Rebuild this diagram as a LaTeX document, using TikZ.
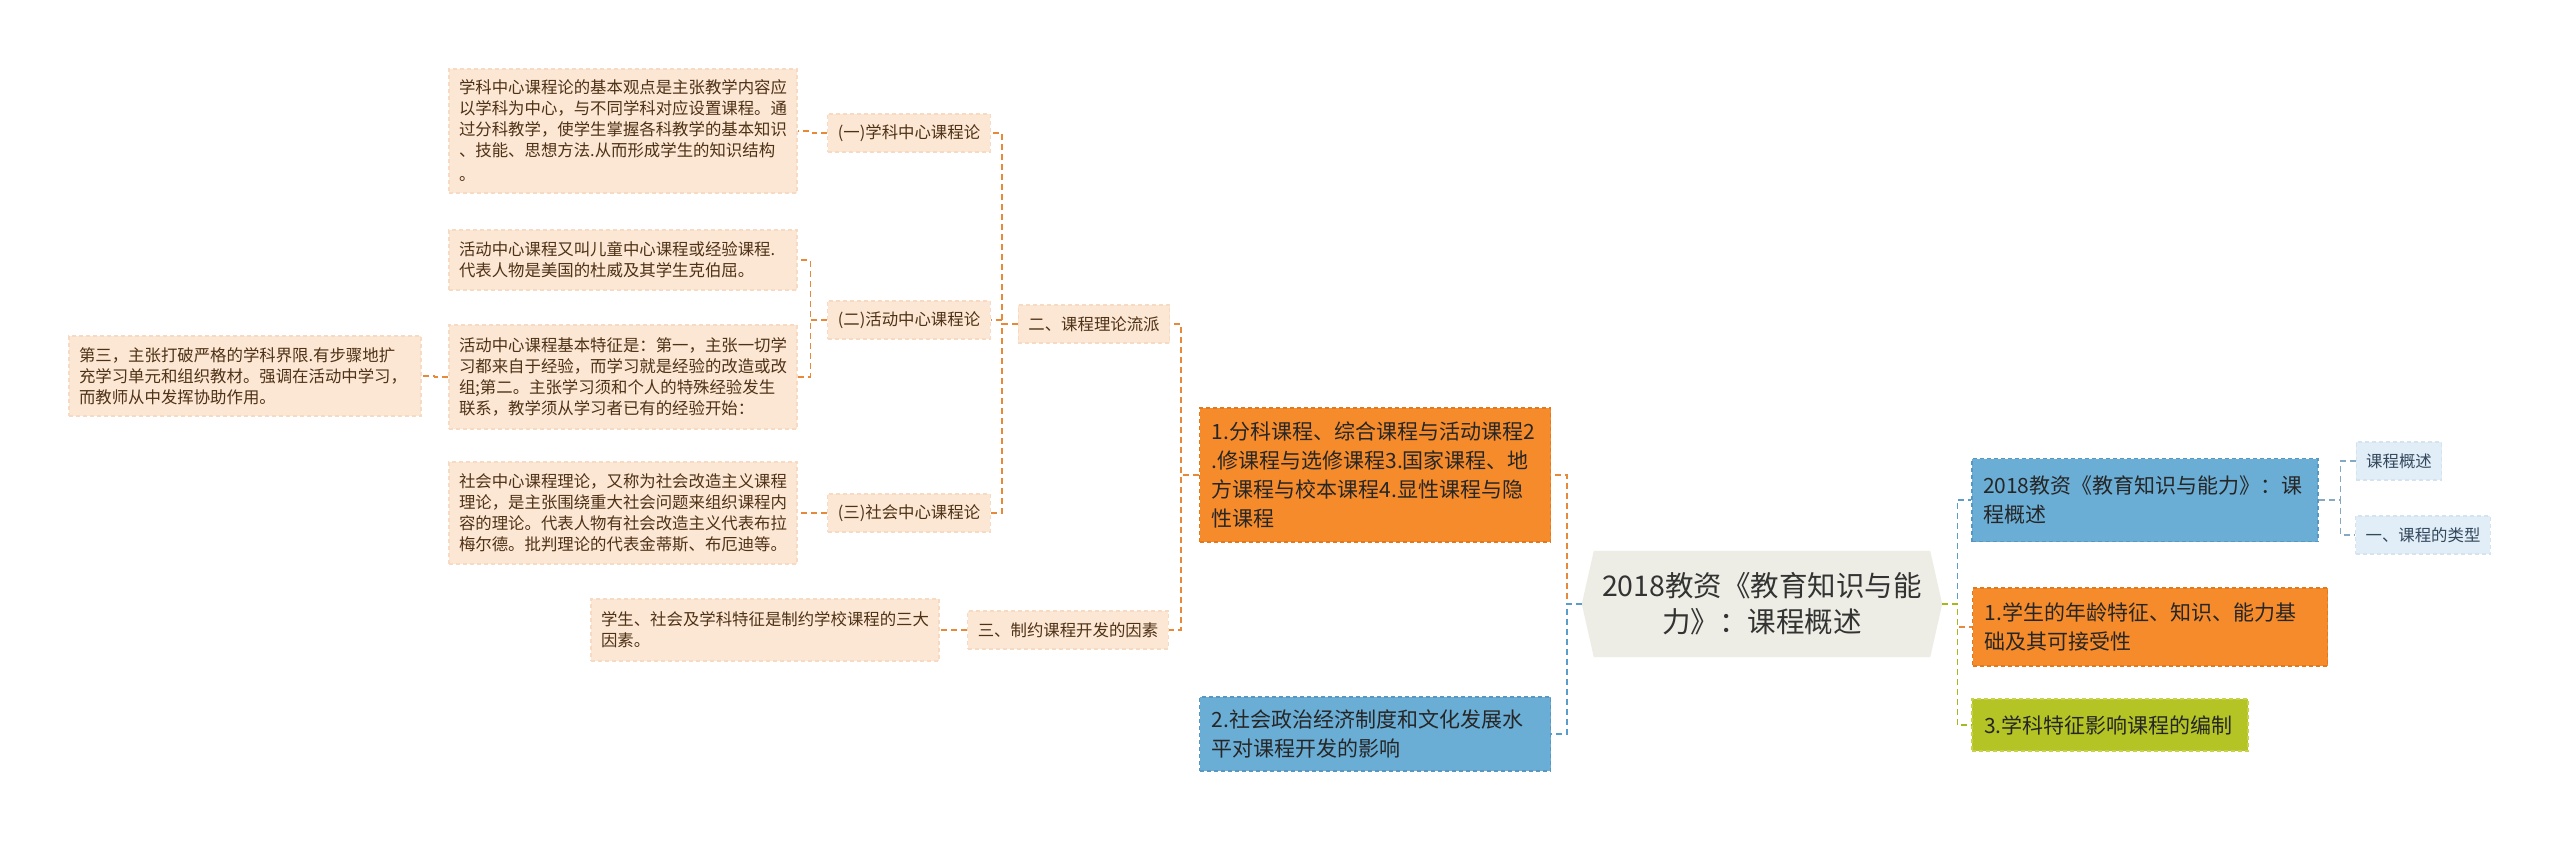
\documentclass[tikz,border=0pt]{standalone}
\usepackage{fontspec}
\setmainfont{Noto Sans CJK SC}
\usetikzlibrary{backgrounds}
\definecolor{peach}{HTML}{FCE6D4}
\definecolor{peachline}{HTML}{F8DAC3}
\definecolor{peachtext}{HTML}{4E3216}
\definecolor{orline}{HTML}{E8893A}
\definecolor{orfill}{HTML}{F68B2B}
\definecolor{orbord}{HTML}{E2791E}
\definecolor{blfill}{HTML}{6AADD5}
\definecolor{blbord}{HTML}{5897C2}
\definecolor{blline}{HTML}{5A9DCA}
\definecolor{olfill}{HTML}{B4C425}
\definecolor{olbord}{HTML}{C6D24A}
\definecolor{olline}{HTML}{A7B71E}
\definecolor{skyfill}{HTML}{E1EEF8}
\definecolor{skybord}{HTML}{D3E4F0}
\definecolor{skyline}{HTML}{86A9C2}
\definecolor{skytext}{HTML}{34485C}
\definecolor{rootfill}{HTML}{EDEDE5}

\begin{document}
\begin{tikzpicture}[x=1pt,y=-1pt,
  box/.style={rectangle, inner xsep=10pt, inner ysep=0pt, align=left,
    dash pattern=on 4pt off 3pt, line width=1.2pt},
  leaf/.style={box, fill=peach, draw=peachline, text=peachtext,
    font=\fontsize{16.4pt}{21pt}\selectfont, text width=328pt},
  mid/.style={box, fill=peach, draw=peachline, text=peachtext,
    font=\fontsize{16.4pt}{21pt}\selectfont, minimum height=38pt},
  big/.style={box, inner xsep=12pt, text=black!85,
    font=\fontsize{21pt}{29pt}\selectfont},
  sky/.style={box, fill=skyfill, draw=skybord, text=skytext,
    font=\fontsize{16.4pt}{21pt}\selectfont, minimum height=38pt},
  link/.style={dash pattern=on 6pt off 4pt, line width=1.4pt}]
  \useasboundingbox (0,0) rectangle (2560,843);

  \node[leaf, minimum height=124pt] (xkla) at (623,131) {学科中心课程论的基本观点是主张教学内容应\\以学科为中心，与不同学科对应设置课程。通\\过分科教学，使学生掌握各科教学的基本知识\\、技能、思想方法.从而形成学生的知识结构\\[3pt]。};
  \node[leaf, minimum height=60pt] (hdla) at (623,260) {活动中心课程又叫儿童中心课程或经验课程.\\代表人物是美国的杜威及其学生克伯屈。};
  \node[leaf, minimum height=104pt] (hdlb) at (623,377) {活动中心课程基本特征是：第一，主张一切学\\习都来自于经验，而学习就是经验的改造或改\\组;第二。主张学习须和个人的特殊经验发生\\联系，教学须从学习者已有的经验开始：};
  \node[leaf, text width=332pt, minimum height=80pt] (hdlc) at (245,376) {第三，主张打破严格的学科界限.有步骤地扩\\充学习单元和组织教材。强调在活动中学习，\\而教师从中发挥协助作用。};
  \node[leaf, minimum height=102pt] (shla) at (623,513) {社会中心课程理论，又称为社会改造主义课程\\理论，是主张围绕重大社会问题来组织课程内\\容的理论。代表人物有社会改造主义代表布拉\\梅尔德。批判理论的代表金蒂斯、布厄迪等。};
  \node[leaf, minimum height=62pt] (yinsua) at (765,630) {学生、社会及学科特征是制约学校课程的三大\\因素。};

  \node[mid] (xkl) at (909,133) {(一)学科中心课程论};
  \node[mid] (hdl) at (909,320) {(二)活动中心课程论};
  \node[mid] (shl) at (909,513) {(三)社会中心课程论};
  \node[mid] (liupai) at (1094,324) {二、课程理论流派};
  \node[mid] (yinsu) at (1068,630) {三、制约课程开发的因素};

  \node[big, fill=orfill, draw=orbord, text width=327pt, minimum height=134pt] (fenke) at (1375,475) {1.分科课程、综合课程与活动课程2\\.修课程与选修课程3.国家课程、地\\方课程与校本课程4.显性课程与隐\\性课程};
  \node[big, fill=blfill, draw=blbord, text width=327pt, minimum height=74pt] (soc) at (1375,734) {2.社会政治经济制度和文化发展水\\平对课程开发的影响};

  \node[align=center, text=black!80, font=\fontsize{28.5pt}{36pt}\selectfont,
    minimum width=360pt, minimum height=106pt, inner sep=0pt] (root) at (1762,604) {2018教资《教育知识与能\\力》：课程概述};
  \begin{scope}[on background layer]
    \fill[white] (0,0) rectangle (2560,843);
    \fill[rootfill] ([xshift=12pt]root.north west) -- (root.west) -- ([xshift=12pt]root.south west)
      -- ([xshift=-12pt]root.south east) -- (root.east) -- ([xshift=-12pt]root.north east) -- cycle;
  \end{scope}

  \node[big, fill=blfill, draw=blbord, text width=324pt, inner xsep=11pt, minimum height=83pt] (kinds) at (2145,500) {2018教资《教育知识与能力》：课\\程概述};
  \node[sky] (ovw) at (2399,461) {课程概述};
  \node[sky] (types) at (2423,535) {一、课程的类型};
  \node[big, fill=orfill, draw=orbord, text width=331pt, minimum height=78pt] (stu) at (2150,627) {1.学生的年龄特征、知识、能力基\\础及其可接受性};
  \node[big, fill=olfill, draw=olbord, text width=252pt, minimum height=52pt] (subj) at (2110,725) {3.学科特征影响课程的编制};

  \draw[link, orline] (root.west) -- ++(-15,0) |- (fenke.east);
  \draw[link, blline] (root.west) -- ++(-15,0) |- (soc.east);
  \draw[link, blline] (root.east) -- ++(15,0) |- (kinds.west);
  \draw[link, orline] (root.east) -- ++(15,0) |- (stu.west);
  \draw[link, olline] (root.east) -- ++(15,0) |- (subj.west);
  \draw[link, skyline] (kinds.east) -- ++(22,0) |- (ovw.west);
  \draw[link, skyline] (kinds.east) -- ++(22,0) |- (types.west);

  \draw[link, orline] (fenke.west) -- ++(-18,0) |- (liupai.east);
  \draw[link, orline] (fenke.west) -- ++(-18,0) |- (yinsu.east);
  \draw[link, orline] (liupai.west) -- ++(-16,0) |- (xkl.east);
  \draw[link, orline] (liupai.west) -- ++(-16,0) |- (hdl.east);
  \draw[link, orline] (liupai.west) -- ++(-16,0) |- (shl.east);
  \draw[link, orline] (xkl.west) -- ++(-15,0) |- (xkla.east);
  \draw[link, orline] (hdl.west) -- ++(-17,0) |- (hdla.east);
  \draw[link, orline] (hdl.west) -- ++(-17,0) |- (hdlb.east);
  \draw[link, orline] (hdlb.west) -- ++(-14,0) |- (hdlc.east);
  \draw[link, orline] (shl.west) -- ++(-15,0) |- (shla.east);
  \draw[link, orline] (yinsu.west) -- ++(-12,0) |- (yinsua.east);
\end{tikzpicture}
\end{document}
